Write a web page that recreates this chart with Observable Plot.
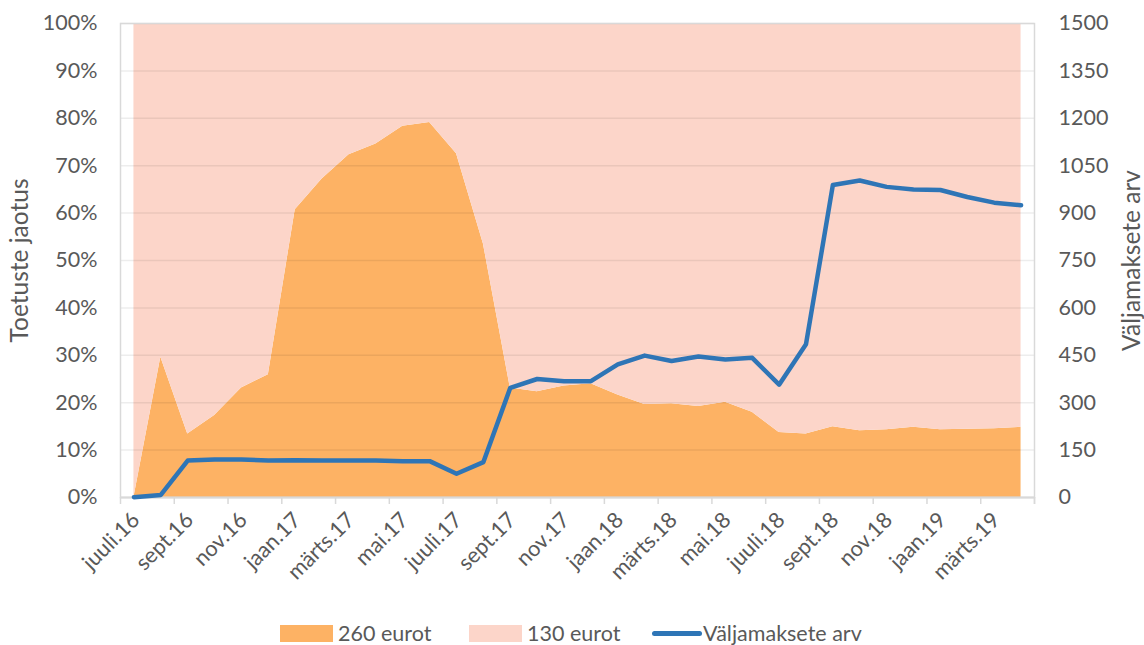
<!DOCTYPE html>
<html>
<head>
<meta charset="utf-8">
<script src="https://cdn.jsdelivr.net/npm/d3@7"></script>
<script src="https://cdn.jsdelivr.net/npm/@observablehq/plot@0.6"></script>
<style>
  html, body { margin: 0; padding: 0; background: #fff; }
  body { width: 1144px; height: 645px; overflow: hidden; font-family: Lato, "Open Sans", sans-serif; }
  #legend { position: relative; height: 45px; width: 1144px; color: #595959; font-size: 21.5px; }
  #legend .sw { position: absolute; }
  #legend .lb { position: absolute; line-height: 24px; }
</style>
</head>
<body>
<div id="chart"></div>
<div id="legend"></div>
<script>
const months = ["juuli.16","aug.16","sept.16","okt.16","nov.16","dets.16","jaan.17","veebr.17","märts.17","apr.17","mai.17","juuni.17","juuli.17","aug.17","sept.17","okt.17","nov.17","dets.17","jaan.18","veebr.18","märts.18","apr.18","mai.18","juuni.18","juuli.18","aug.18","sept.18","okt.18","nov.18","dets.18","jaan.19","veebr.19","märts.19","apr.19"];
const share260 = [0, 29.6, 13.4, 17.3, 23.1, 25.9, 60.7, 67.2, 72.3, 74.6, 78.3, 79.1, 72.5, 53.5, 23.1, 22.3, 23.5, 24.0, 21.6, 19.6, 19.8, 19.2, 20.1, 18.0, 13.7, 13.4, 14.9, 14.1, 14.3, 14.8, 14.3, 14.4, 14.5, 14.8];
const share130 = [100, 70.4, 86.6, 82.7, 76.9, 74.1, 39.3, 32.8, 27.7, 25.4, 21.7, 20.9, 27.5, 46.5, 76.9, 77.7, 76.5, 76.0, 78.4, 80.4, 80.2, 80.8, 79.9, 82.0, 86.3, 86.6, 85.1, 85.9, 85.7, 85.2, 85.7, 85.6, 85.5, 85.2];
const payouts = [1, 8, 117, 120, 120, 117, 118, 117, 117, 117, 115, 115, 75, 112, 347, 375, 368, 368, 421, 449, 432, 446, 437, 442, 357, 485, 989, 1003, 983, 975, 973, 951, 933, 925];
const leftTicks = [0, 10, 20, 30, 40, 50, 60, 70, 80, 90, 100];
const rightTicks = [0, 150, 300, 450, 600, 750, 900, 1050, 1200, 1350, 1500];
const seriesNames = ["260 eurot", "130 eurot", "Väljamaksete arv"];
const colors = ["#FDB264", "#FCD5C9", "#2E75B6"];
const leftTitle = "Toetuste jaotus";
const rightTitle = "Väljamaksete arv";
const rightMax = 1500;

const areaRows = [];
months.forEach((m, i) => {
  areaRows.push({i, s: seriesNames[0], v: share260[i]});
  areaRows.push({i, s: seriesNames[1], v: share130[i]});
});
const lineRows = months.map((m, i) => ({i, v: payouts[i]}));
const labelIdx = d3.range(0, months.length, 2);
const boundaries = d3.range(-0.5, months.length, 2).concat([months.length - 0.5]);

const textColor = "#595959";
const chart = Plot.plot({
  width: 1144,
  height: 600,
  marginLeft: 120,
  marginRight: 110,
  marginTop: 23,
  marginBottom: 103,
  style: {fontFamily: "Lato, 'Open Sans', sans-serif", fontSize: "21.5px", color: textColor, background: "#fff"},
  x: {type: "linear", domain: [-0.5, months.length - 0.5], axis: null},
  y: {domain: [0, 100], axis: null},
  color: {domain: seriesNames.slice(0, 2), range: colors.slice(0, 2)},
  marks: [
    Plot.areaY(areaRows, {x: "i", y: "v", fill: "s", order: seriesNames.slice(0, 2), curve: "linear"}),
    Plot.gridY(leftTicks, {stroke: "#000", strokeOpacity: 0.07, strokeWidth: 1.5}),
    Plot.frame({stroke: "#D9D9D9", strokeWidth: 1.5}),
    Plot.ruleY([0], {stroke: "#D9D9D9", strokeWidth: 2}),
    Plot.axisX({ticks: boundaries, tickFormat: () => "", tickSize: 7, stroke: "#D9D9D9", strokeWidth: 1.5, label: null}),
    Plot.line(lineRows, {x: "i", y: d => d.v / rightMax * 100, stroke: colors[2], strokeWidth: 4.5, strokeLinejoin: "round", strokeLinecap: "round"}),
    Plot.text(leftTicks, {frameAnchor: "left", y: d => d, text: d => d + "%", textAnchor: "end", dx: -23, fill: textColor}),
    Plot.text(rightTicks, {frameAnchor: "right", y: d => d / rightMax * 100, text: d => String(d), textAnchor: "start", dx: 24, fill: textColor}),
    Plot.text(labelIdx, {x: d => d, y: 0, text: d => months[d], rotate: -45, textAnchor: "end", lineAnchor: "middle", dx: 2, dy: 19, fill: textColor, fontSize: 21.7}),
    Plot.text([leftTitle], {frameAnchor: "left", text: d => d, rotate: -90, textAnchor: "middle", dx: -100, fill: textColor, fontSize: 24.5}),
    Plot.text([rightTitle], {frameAnchor: "right", text: d => d, rotate: -90, textAnchor: "middle", dx: 98, fill: textColor, fontSize: 24.5})
  ]
});
document.getElementById("chart").appendChild(chart);

const legend = document.getElementById("legend");
const items = [
  {name: seriesNames[0], color: colors[0], type: "box", x: 280},
  {name: seriesNames[1], color: colors[1], type: "box", x: 469},
  {name: seriesNames[2], color: colors[2], type: "line", x: 652}
];
items.forEach(it => {
  const sw = document.createElement("div");
  sw.className = "sw";
  sw.style.left = it.x + "px";
  if (it.type === "box") {
    sw.style.width = "53px"; sw.style.height = "17px"; sw.style.top = (33 - 8.5) + "px";
  } else {
    sw.style.width = "50px"; sw.style.height = "5px"; sw.style.top = (33 - 2.5) + "px"; sw.style.borderRadius = "3px";
  }
  sw.style.background = it.color;
  legend.appendChild(sw);
  const lb = document.createElement("div");
  lb.className = "lb";
  lb.textContent = it.name;
  lb.style.left = (it.x + (it.type === "box" ? 58 : 51)) + "px";
  lb.style.top = (33 - 12) + "px";
  legend.appendChild(lb);
});
</script>
</body>
</html>
